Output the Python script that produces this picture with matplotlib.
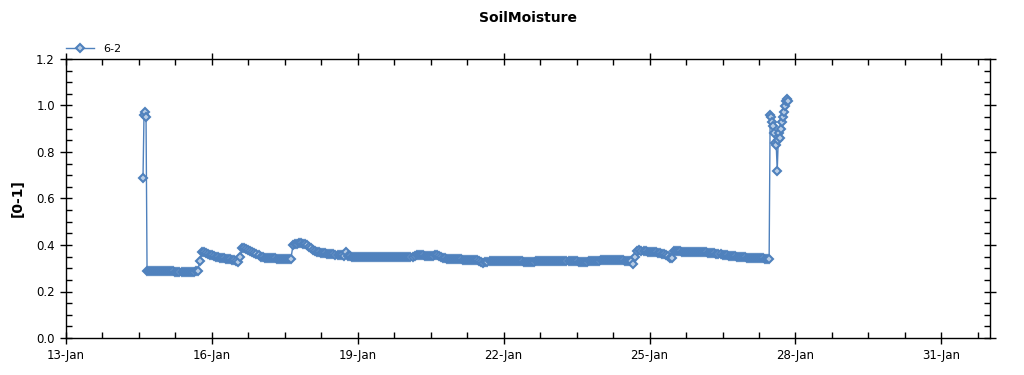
import matplotlib
matplotlib.use("Agg")
import matplotlib.pyplot as plt
import matplotlib.dates as mdates
from matplotlib.ticker import MultipleLocator, FormatStrFormatter
import numpy as np
import pandas as pd

# soil moisture sensor 6-2
spike_start = "2014-01-14 14:00"          # 30 min readings
spike_vals = [0.69, 0.96, 0.97, 0.95]

main_start = "2014-01-14 16:00"           # hourly readings
main_vals = [
    # 14 Jan 16-23h
    0.288, 0.288, 0.287, 0.287, 0.287, 0.287, 0.287, 0.287,
    # 15 Jan
    0.287, 0.287, 0.287, 0.287, 0.287, 0.287, 0.286, 0.286, 0.286, 0.286, 0.286, 0.286,
    0.286, 0.286, 0.286, 0.286, 0.287, 0.287, 0.330, 0.368, 0.370, 0.366, 0.362, 0.359,
    # 16 Jan
    0.356, 0.353, 0.350, 0.348, 0.346, 0.344, 0.342, 0.341, 0.339, 0.338, 0.336, 0.334,
    0.331, 0.326, 0.350, 0.388, 0.386, 0.383, 0.379, 0.375, 0.370, 0.365, 0.360, 0.356,
    # 17 Jan
    0.350, 0.348, 0.346, 0.345, 0.344, 0.343, 0.342, 0.342, 0.341, 0.341, 0.340, 0.340,
    0.340, 0.340, 0.340, 0.341, 0.398, 0.404, 0.406, 0.407, 0.407, 0.406, 0.405, 0.400,
    # 18 Jan
    0.392, 0.385, 0.378, 0.373, 0.370, 0.368, 0.366, 0.365, 0.364, 0.363, 0.362, 0.361,
    0.360, 0.359, 0.358, 0.356, 0.355, 0.354, 0.368, 0.352, 0.351, 0.350, 0.350, 0.349,
    # 19 Jan
    0.348, 0.348, 0.348, 0.348, 0.347, 0.347, 0.347, 0.347, 0.347, 0.347, 0.347, 0.347,
    0.347, 0.347, 0.347, 0.347, 0.347, 0.347, 0.347, 0.347, 0.347, 0.347, 0.347, 0.347,
    # 20 Jan
    0.347, 0.347, 0.348, 0.349, 0.352, 0.356, 0.357, 0.356, 0.355, 0.354, 0.353, 0.353,
    0.353, 0.354, 0.356, 0.357, 0.352, 0.347, 0.344, 0.342, 0.341, 0.341, 0.340, 0.340,
    # 21 Jan
    0.339, 0.339, 0.338, 0.338, 0.337, 0.337, 0.337, 0.336, 0.336, 0.335, 0.335, 0.334,
    0.330, 0.326, 0.324, 0.325, 0.328, 0.330, 0.331, 0.331, 0.331, 0.331, 0.331, 0.331,
    # 22 Jan
    0.331, 0.331, 0.331, 0.331, 0.331, 0.331, 0.331, 0.331, 0.331, 0.331, 0.328, 0.326,
    0.325, 0.325, 0.327, 0.329, 0.331, 0.331, 0.331, 0.331, 0.331, 0.331, 0.331, 0.331,
    # 23 Jan
    0.331, 0.331, 0.331, 0.331, 0.331, 0.331, 0.331, 0.331, 0.331, 0.331, 0.331, 0.331,
    0.331, 0.328, 0.325, 0.325, 0.327, 0.329, 0.331, 0.332, 0.333, 0.333, 0.333, 0.333,
    # 24 Jan
    0.334, 0.334, 0.334, 0.334, 0.335, 0.335, 0.335, 0.335, 0.335, 0.335, 0.334, 0.334,
    0.333, 0.332, 0.331, 0.330, 0.320, 0.350, 0.376, 0.377, 0.375, 0.374, 0.373, 0.372,
    # 25 Jan
    0.371, 0.370, 0.369, 0.368, 0.366, 0.364, 0.362, 0.360, 0.357, 0.352, 0.345, 0.344,
    0.374, 0.375, 0.374, 0.373, 0.372, 0.372, 0.371, 0.371, 0.371, 0.370, 0.370, 0.370,
    # 26 Jan
    0.370, 0.369, 0.369, 0.368, 0.368, 0.367, 0.366, 0.365, 0.364, 0.363, 0.362, 0.360,
    0.359, 0.357, 0.356, 0.354, 0.353, 0.352, 0.351, 0.350, 0.349, 0.348, 0.347, 0.347,
    # 27 Jan 0-11h
    0.346, 0.345, 0.345, 0.344, 0.344, 0.343, 0.343, 0.342, 0.342, 0.341, 0.341, 0.340,
]

end_start = "2014-01-27 11:30"            # 30 min readings
end_vals = [0.96, 0.95, 0.93, 0.91, 0.88, 0.84, 0.83, 0.72, 0.85, 0.88, 0.86,
            0.90, 0.93, 0.95, 0.97, 1.00, 1.02, 1.03, 1.02]

t = np.concatenate([
    pd.date_range(spike_start, periods=len(spike_vals), freq="30min"),
    pd.date_range(main_start, periods=len(main_vals), freq="1h"),
    pd.date_range(end_start, periods=len(end_vals), freq="30min"),
])
y = np.concatenate([spike_vals, main_vals, end_vals])

plt.rcParams['font.family'] = ['DejaVu Sans']
fig = plt.figure(figsize=(10.24, 3.75), dpi=100)
ax = fig.add_axes([66/1024, 37/375, 924/1024, 279/375])

ax.plot(t, y, color='#4f81bd', lw=1, marker='D', markersize=4.2,
        markerfacecolor='#b9cde5', markeredgecolor='#4f81bd', markeredgewidth=1.5,
        label='6-2')

ax.set_xlim(pd.Timestamp("2014-01-13"), pd.Timestamp("2014-02-01"))
ax.set_ylim(0, 1.2)
ax.xaxis.set_major_locator(mdates.DayLocator(bymonthday=[13, 16, 19, 22, 25, 28, 31]))
ax.xaxis.set_major_formatter(mdates.DateFormatter('%d-%b'))
ax.xaxis.set_minor_locator(MultipleLocator(0.75))
ax.yaxis.set_major_locator(MultipleLocator(0.2))
ax.yaxis.set_minor_locator(MultipleLocator(0.05))
ax.yaxis.set_major_formatter(FormatStrFormatter('%.1f'))

ax.tick_params(which='major', direction='inout', length=9, width=1, labelsize=8.5,
               top=True, right=True)
ax.tick_params(which='minor', direction='in', length=4, width=1, top=True, right=True)
for s in ax.spines.values():
    s.set_linewidth(1)

ax.set_ylabel('[0-1]', fontsize=10, fontweight='bold', labelpad=8)
fig.text(0.5156, 1 - 18/375, 'SoilMoisture', ha='center', va='center',
         fontsize=10, fontweight='bold')
ax.legend(loc='lower left', bbox_to_anchor=(-0.002, 1.01), frameon=False,
          fontsize=8, handlelength=2.5, borderaxespad=0, borderpad=0.2,
          markerscale=0.9)

fig.savefig('out.png', dpi=100)
